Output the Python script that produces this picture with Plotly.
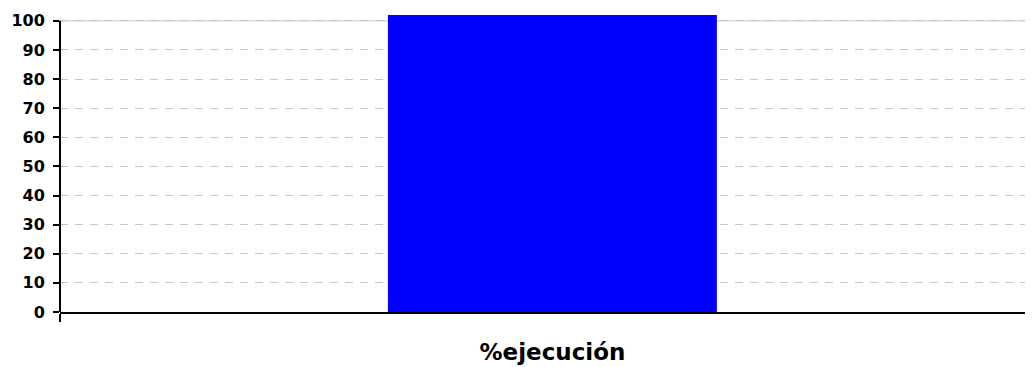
import plotly.graph_objects as go

categories = ["%ejecución"]
values = [102]
y_ticks = [0, 10, 20, 30, 40, 50, 60, 70, 80, 90, 100]

fig = go.Figure()
fig.add_trace(go.Bar(
    x=categories, y=values, width=0.334,
    marker=dict(color="#0000ff", line=dict(width=0)),
    showlegend=False,
))

fig.update_layout(
    width=1025, height=359,
    margin=dict(l=52, r=0, t=7, b=55, autoexpand=False),
    paper_bgcolor="white", plot_bgcolor="white",
    font=dict(family="DejaVu Sans, sans-serif", color="black"),
    xaxis=dict(
        type="category", range=[-0.5, 0.488], automargin=False,
        showline=True, linecolor="black", linewidth=2,
        ticks="outside", tickson="boundaries", ticklen=8, tickwidth=1.5, tickcolor="black",
        tickfont=dict(size=23, family="DejaVu Sans, sans-serif", weight="bold"),
        showgrid=False, ticklabelstandoff=18,
    ),
    yaxis=dict(
        range=[0, 102], automargin=False,
        tickvals=y_ticks,
        ticks="outside", ticklen=6, tickwidth=1.5, tickcolor="black",
        tickfont=dict(size=16, family="DejaVu Sans, sans-serif", weight="bold"),
        showline=False, zeroline=False,
        showgrid=True, gridcolor="#c8c8c8", gridwidth=1, griddash="8px,7px",
        ticklabelstandoff=5,
    ),
    shapes=[
        dict(type="line", xref="x domain", yref="y", x0=0, x1=1, y0=100, y1=100,
             line=dict(color="#ccccf5", width=1.2), layer="below"),
        dict(type="line", xref="x domain", yref="y", x0=0, x1=0, y0=0, y1=100,
             line=dict(color="black", width=2), layer="above"),
    ],
)

fig.write_html("out.html")
